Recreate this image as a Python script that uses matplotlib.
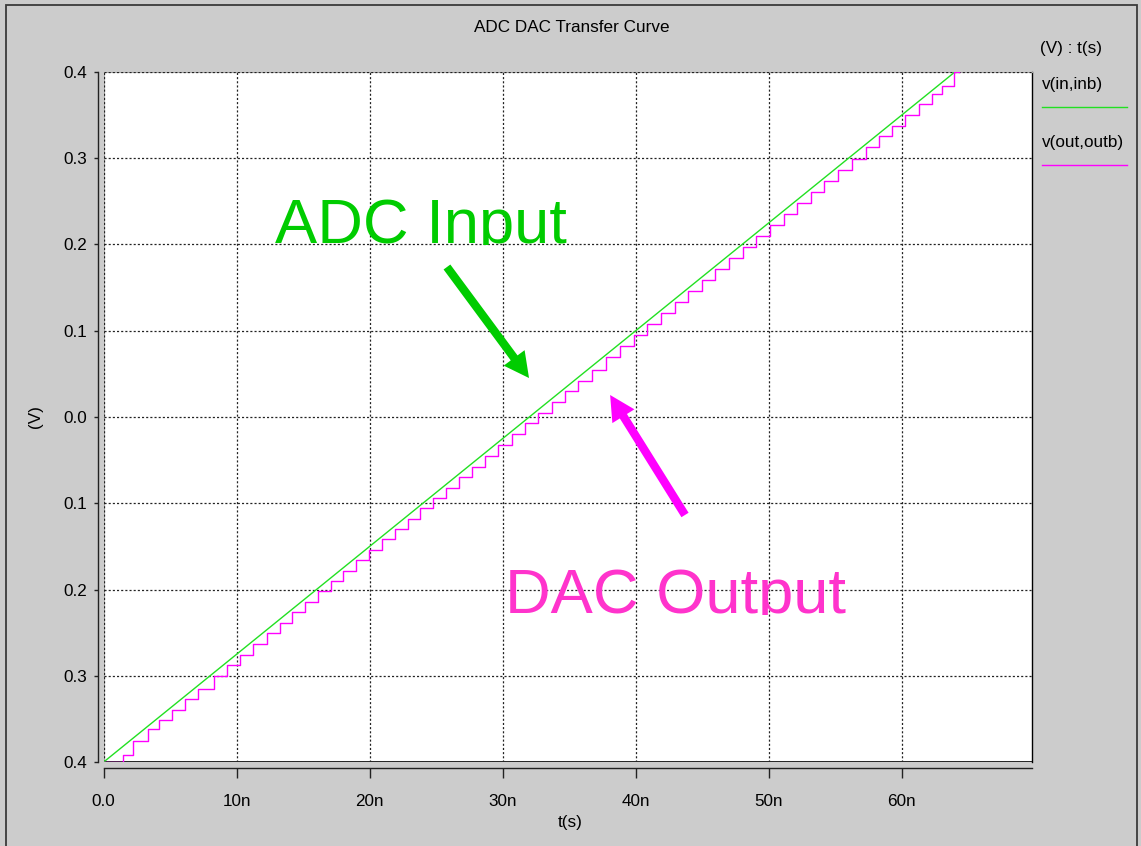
import matplotlib
matplotlib.use('Agg')
import matplotlib.pyplot as plt
from matplotlib.patches import Rectangle
from matplotlib.lines import Line2D
from matplotlib.transforms import Bbox, TransformedBbox

plt.rcParams['font.family'] = ['Liberation Sans', 'DejaVu Sans']
plt.rcParams['lines.scale_dashes'] = False

# ---------------- data ----------------
# ADC input ramp v(in,inb): time (ns) and volts
ramp_t = [0.0, 64.0]
ramp_v = [-0.4, 0.4]

# DAC output v(out,outb): staircase step times (ns) and levels after each step (V)
step_t = [0.00, 1.47, 2.23, 3.31, 4.14, 5.11, 6.11, 7.07, 8.29, 9.25, 10.25,
          11.25, 12.26, 13.22, 14.18, 15.14, 16.10, 17.07, 18.03, 19.00, 19.96,
          20.92, 21.89, 22.85, 23.81, 24.78, 25.74, 26.70, 27.67, 28.67, 29.67,
          30.68, 31.68, 32.66, 33.68, 34.68, 35.65, 36.68, 37.80, 38.82, 39.85,
          40.87, 41.90, 42.92, 43.94, 44.97, 45.99, 47.02, 48.04, 49.07, 50.09,
          51.12, 52.14, 53.17, 54.19, 55.22, 56.24, 57.30, 58.30, 59.30, 60.26,
          61.30, 62.26, 63.00, 63.90, 64.30]
step_v = [-0.4000, -0.3920, -0.3756, -0.3621, -0.3518, -0.3396, -0.3271, -0.3151,
          -0.2999, -0.2879, -0.2754, -0.2629, -0.2503, -0.2383, -0.2263, -0.2143,
          -0.2023, -0.1901, -0.1781, -0.1660, -0.1540, -0.1420, -0.1299, -0.1179,
          -0.1059, -0.0938, -0.0818, -0.0698, -0.0576, -0.0451, -0.0326, -0.0200,
          -0.0075, 0.0048, 0.0175, 0.0300, 0.0421, 0.0550, 0.0690, 0.0818,
          0.0946, 0.1074, 0.1203, 0.1330, 0.1458, 0.1586, 0.1714, 0.1843,
          0.1970, 0.2099, 0.2226, 0.2355, 0.2483, 0.2611, 0.2739, 0.2868,
          0.2995, 0.3128, 0.3253, 0.3378, 0.3498, 0.3628, 0.3748, 0.3840,
          0.4000, 0.4000]

x_ticks = [0, 10, 20, 30, 40, 50, 60]
x_tick_labels = ['0.0', '10n', '20n', '30n', '40n', '50n', '60n']
y_ticks = [0.4, 0.3, 0.2, 0.1, 0.0, -0.1, -0.2, -0.3, -0.4]
y_tick_labels = ['0.4', '0.3', '0.2', '0.1', '0.0', '0.1', '0.2', '0.3', '0.4']

title = 'ADC DAC Transfer Curve'
series_names = ['v(in,inb)', 'v(out,outb)']
legend_header = '(V) : t(s)'

GREEN = '#22e022'
MAGENTA = '#ff00ff'
W, H = 1141, 846
FS = 12.3

# ---------------- figure ----------------
fig = plt.figure(figsize=(W / 100, H / 100), dpi=100, facecolor='#cccccc')
fig.add_artist(Rectangle((6 / W, -0.01), (1137 - 6) / W, (H - 5) / H + 0.01,
                         transform=fig.transFigure, fill=False,
                         edgecolor='#3a3a3a', lw=1.3))

ax = fig.add_axes([103.7 / W, (H - 762) / H, (1032 - 103.7) / W, (762 - 72) / H])
ax.set_facecolor('white')
ax.set_xlim(0, 69.8)
ax.set_ylim(-0.4, 0.4)

# spines
for s in ['left', 'bottom']:
    ax.spines[s].set_position(('outward', 4))
    ax.spines[s].set_linewidth(1.0)
    ax.spines[s].set_color('#222222')
ax.spines['right'].set_color('black')
ax.spines['right'].set_linewidth(1.0)
ax.spines['top'].set_color('#aaaaaa')
ax.spines['top'].set_linewidth(0.8)
ax.axhline(ax.get_ylim()[0], color='black', lw=1.2, zorder=1)
ax.axvline(ax.get_xlim()[0], color='#aaaaaa', lw=0.8, zorder=1)

ax.set_xticks(x_ticks)
ax.set_xticklabels(x_tick_labels)
ax.set_yticks(y_ticks)
ax.set_yticklabels(y_tick_labels)
ax.tick_params(axis='x', direction='out', length=7.2, width=1.0, pad=11.5,
               labelsize=FS, colors='#222222', labelcolor='black')
ax.tick_params(axis='y', direction='out', length=3, width=1.0, pad=5,
               labelsize=FS, colors='#222222', labelcolor='black')

ax.grid(True, color='#222222', linestyle=(0, (1.5, 1.5)), lw=0.9, zorder=1.5)
ax.set_axisbelow(False)

# data
ax.plot(ramp_t, ramp_v, color=GREEN, lw=1.0, zorder=3)
ax.plot(step_t, step_v, color=MAGENTA, lw=1.0, drawstyle='steps-post', zorder=3)

# annotations (text clipped at baseline as in reference)
t1 = ax.text(12.88, 0.2014, 'ADC Input', color='#00cc00', fontsize=45.5,
             ha='left', va='baseline', zorder=4)
t1.set_clip_box(TransformedBbox(Bbox([[0, 0.1994], [69.8, 0.4]]), ax.transData))
t1.set_clip_on(True)
t2 = ax.text(30.17, -0.2272, 'DAC Output', color='#ff33cc', fontsize=45.5,
             ha='left', va='baseline', zorder=4)
t2.set_clip_box(TransformedBbox(Bbox([[0, -0.2290], [69.8, 0.4]]), ax.transData))
t2.set_clip_on(True)

ms = 20 * 72 / 100
ax.annotate('', xy=(31.98, 0.0452), xytext=(25.81, 0.1739),
            arrowprops=dict(arrowstyle='simple,head_length=1.25,head_width=1.3,tail_width=0.42',
                            fc='#00cc00', ec='none', shrinkA=0, shrinkB=0,
                            mutation_scale=ms), zorder=4)
ax.annotate('', xy=(38.08, 0.0255), xytext=(43.71, -0.1136),
            arrowprops=dict(arrowstyle='simple,head_length=1.25,head_width=1.3,tail_width=0.42',
                            fc=MAGENTA, ec='none', shrinkA=0, shrinkB=0,
                            mutation_scale=ms), zorder=4)

# titles / labels
fig.text(572 / W, 1 - 28 / H, title, ha='center', va='center', fontsize=FS)
fig.text(35 / W, 1 - 417 / H, '(V)', rotation=90, ha='center', va='center', fontsize=FS)
fig.text(570 / W, 1 - 822 / H, 't(s)', ha='center', va='center', fontsize=FS)

# legend-like labels on the right
fig.text(1040 / W, 1 - 48 / H, legend_header, ha='left', va='center', fontsize=FS)
fig.text(1042 / W, 1 - 85 / H, series_names[0], ha='left', va='center', fontsize=FS)
fig.add_artist(Line2D([1042 / W, 1127 / W], [1 - 107 / H, 1 - 107 / H],
                      transform=fig.transFigure, color=GREEN, lw=1.0))
fig.text(1042 / W, 1 - 143 / H, series_names[1], ha='left', va='center', fontsize=FS)
fig.add_artist(Line2D([1042 / W, 1127 / W], [1 - 165 / H, 1 - 165 / H],
                      transform=fig.transFigure, color=MAGENTA, lw=1.0))

fig.savefig('out.png', dpi=100, facecolor=fig.get_facecolor())
